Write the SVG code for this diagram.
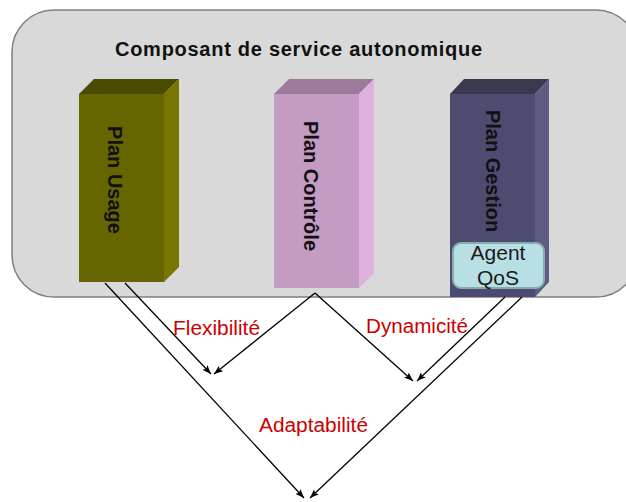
<svg xmlns="http://www.w3.org/2000/svg" width="626" height="502" viewBox="0 0 626 502">
<defs>
<style>
.title{font-family:"Liberation Sans",Arial,sans-serif;font-weight:bold;font-size:20px;fill:#111}
.vlab{font-family:"Liberation Sans",Arial,sans-serif;font-weight:bold;font-size:20px;fill:#111;text-anchor:middle}
.red{font-family:"Liberation Sans",Arial,sans-serif;font-size:20px;fill:#cc0000}
.agent{font-family:"Liberation Sans",Arial,sans-serif;font-size:21px;fill:#1a1a1a;text-anchor:middle}
.conn{stroke:#000;stroke-width:1.3;fill:none;marker-end:url(#arr)}
</style>
<marker id="arr" markerUnits="userSpaceOnUse" markerWidth="10" markerHeight="8" refX="9" refY="3.5" orient="auto">
<path d="M0,0 L9,3.5 L0,7 L2,3.5 z" fill="#000"/>
</marker>
</defs>
<rect width="626" height="502" fill="#fff"/>
<g id="container">
<rect x="12" y="10" width="626" height="287" rx="42" ry="42" fill="#d9d9d9" stroke="#7f7f7f" stroke-width="1.5"/>
<text class="title" x="115" y="56" textLength="367" lengthAdjust="spacing">Composant de service autonomique</text>
</g>
<g id="plan-usage">
<polygon points="79,94 94,79 179,79 164,94" fill="#4a4a00"/>
<polygon points="164,94 179,79 179,267 164,282" fill="#767600"/>
<rect x="79" y="94" width="85" height="188" fill="#666600"/>
<text class="vlab" transform="translate(108,180) rotate(90)" x="0" y="0">Plan Usage</text>
</g>
<g id="plan-controle">
<polygon points="274,94 289,79 374,79 359,94" fill="#9c7a9a"/>
<polygon points="359,94 374,79 374,273 359,288" fill="#deb1de"/>
<rect x="274" y="94" width="85" height="194" fill="#c39bc3"/>
<text class="vlab" transform="translate(304,186) rotate(90)" x="0" y="0">Plan Contrôle</text>
</g>
<g id="plan-gestion">
<polygon points="450,94 464,79 549,79 535,94" fill="#39384f"/>
<polygon points="535,94 549,79 549,282 535,297" fill="#5e5c85"/>
<rect x="450" y="94" width="85" height="203" fill="#4d4b70"/>
<text class="vlab" transform="translate(486,171) rotate(90)" x="0" y="0">Plan Gestion</text>
</g>
<g id="agent-qos">
<rect x="453" y="243" width="91" height="45" rx="8" ry="8" fill="#b8e0e4" stroke="#86aeae" stroke-width="2"/>
<text class="agent" x="498" y="260">Agent</text>
<text class="agent" x="498" y="285">QoS</text>
</g>
<g id="connectors">
<line class="conn" x1="105" y1="283" x2="304" y2="498"/>
<line class="conn" x1="125" y1="283" x2="211" y2="374"/>
<line class="conn" x1="315" y1="293" x2="214" y2="374"/>
<line class="conn" x1="315" y1="293" x2="413" y2="381"/>
<line class="conn" x1="505" y1="297" x2="417" y2="381"/>
<line class="conn" x1="522" y1="297" x2="310" y2="498"/>
</g>
<g id="labels">
<text class="red" x="173" y="335" textLength="87" lengthAdjust="spacingAndGlyphs">Flexibilité</text>
<text class="red" x="366" y="333" textLength="102" lengthAdjust="spacingAndGlyphs">Dynamicité</text>
<text class="red" x="259" y="432" textLength="109" lengthAdjust="spacingAndGlyphs">Adaptabilité</text>
</g>
</svg>
